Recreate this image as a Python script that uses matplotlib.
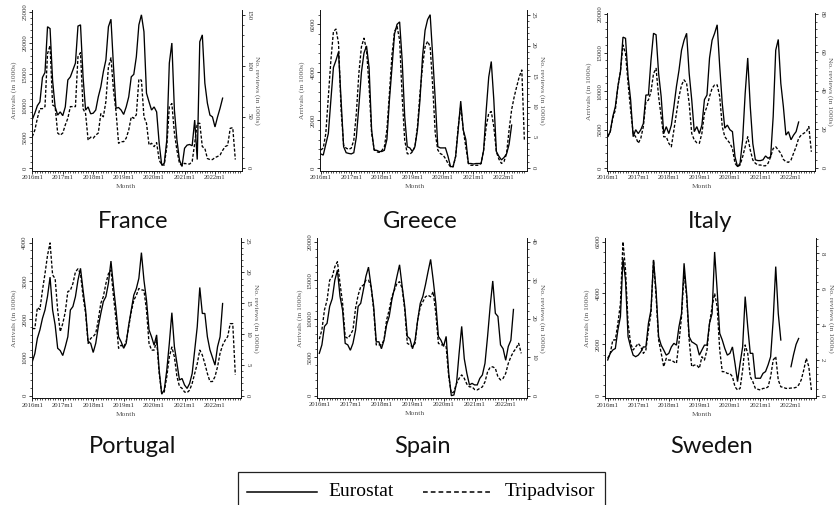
import numpy as np
import matplotlib
matplotlib.use("Agg")
import matplotlib.pyplot as plt
from matplotlib.ticker import AutoMinorLocator, MultipleLocator
from matplotlib.lines import Line2D
from matplotlib.patches import Rectangle

plt.rcParams['lines.scale_dashes'] = False

# ---------------- data ----------------
year_ticks = [0, 12, 24, 36, 48, 60, 72]
year_labels = ["2016m1", "2017m1", "2018m1", "2019m1", "2020m1", "2021m1", "2022m1"]
nan = np.nan

# Eurostat arrivals (in 1000s), monthly from 2016m1
france_eurostat = [7800, 8800, 10000, 10600, 14500, 15300, 22600, 22300, 14000, 9800, 8500, 9000,
                   8400, 9800, 14100, 14600, 15700, 16800, 22700, 22900, 14600, 9300, 9800, 8700,
                   8800, 9300, 11400, 13000, 15400, 17300, 22600, 23800, 16200, 9600, 9700, 9300,
                   8600, 9800, 11400, 14600, 15000, 17800, 22900, 24500, 21800, 12000, 10600, 9300,
                   9800, 9000, 4000, 500, 800, 4500, 16800, 20000, 9300, 4500, 1300, 300,
                   3200, 3700, 3800, 3600, 7700, 1400, 20200, 21300, 13600, 10400, 8500, 8200,
                   6600, 8200, 9600, 11200]
france_tripadvisor = [30.5, 37, 48.5, 58, 58, 60, 112, 120, 61.6, 60, 34, 32,
                      34, 42, 48.5, 60, 60, 60, 109, 113, 58, 53, 27, 30,
                      29, 32, 34, 53, 50, 65, 99, 108, 76, 55, 24, 25.6,
                      25.6, 29, 37, 50, 48.5, 52, 87, 86, 50, 43.6, 22.3, 24,
                      20.7, 24.6, 7.5, 2.6, 2.6, 20.7, 60, 63, 34, 17, 4.3, 2,
                      4.3, 3.6, 3.6, 6, 24, 43.6, 43.6, 20.7, 19, 9, 8, 8,
                      10, 11, 12.5, 17, 20.7, 22, 38.7, 39.3, 8]

greece_eurostat = [600, 550, 1000, 1450, 2850, 4200, 4500, 4850, 2850, 900, 650, 620,
                   600, 650, 1300, 2600, 4000, 4800, 5100, 4200, 1600, 750, 750, 700,
                   700, 750, 1200, 2850, 4200, 5600, 6000, 6100, 4500, 2150, 900, 850,
                   700, 900, 1600, 2850, 4650, 5750, 6200, 6400, 4650, 2850, 900, 850,
                   850, 850, 500, 70, 70, 500, 1600, 2800, 1600, 1200, 200, 200,
                   180, 200, 200, 200, 750, 2400, 3800, 4450, 2850, 700, 500, 350,
                   450, 600, 1000, 1800]
greece_tripadvisor = [2.9, 3.2, 5.6, 11.6, 17.6, 22.3, 22.7, 20.4, 9.5, 3.7, 3.2, 3.0,
                      3.2, 4.5, 8.9, 15.5, 19.8, 21.2, 19.3, 13.3, 5.6, 3.0, 2.6, 2.5,
                      2.8, 3.4, 6.2, 12.2, 18.5, 22.3, 23.1, 20.9, 11.6, 4.5, 2.3, 2.2,
                      2.6, 3.4, 6.7, 12.2, 16.6, 19.8, 20.7, 19.8, 13.3, 5.6, 2.9, 2.3,
                      2.1, 1.5, 0.7, 0.15, 0.15, 1.8, 6.7, 10.0, 6.2, 3.4, 0.7, 0.4,
                      0.4, 0.4, 0.4, 0.7, 2.9, 6.7, 8.9, 9.2, 6.7, 2.6, 1.4, 0.7,
                      1.0, 2.3, 6.2, 9.5, 11.6, 13.3, 14.9, 16.0, 4.5]

italy_eurostat = [4100, 4750, 6700, 8000, 10600, 12500, 17000, 16850, 11900, 8900, 4100, 5000,
                  4500, 5000, 5800, 9500, 9500, 14000, 17500, 17300, 12300, 9300, 4500, 5400,
                  4500, 5600, 8000, 10600, 12700, 15300, 16600, 17500, 12300, 8900, 4750, 5400,
                  4500, 5600, 8900, 9500, 14300, 16600, 17500, 18600, 13200, 8400, 5200, 5600,
                  5000, 4750, 1500, 200, 650, 3700, 9700, 14300, 8000, 3200, 1100, 1000,
                  1000, 1100, 1600, 1300, 1500, 6700, 15300, 16700, 11000, 8000, 4300, 4750,
                  3700, 4300, 4750, 6000]
italy_tripadvisor = [16.1, 18.7, 25.7, 30, 42.2, 50, 63.9, 59.5, 43.9, 30, 18, 16,
                     12.7, 15.3, 21.4, 34.4, 35.2, 39.6, 49, 51.7, 37, 26.6, 16.1, 16.1,
                     12.7, 10.9, 19.6, 28.3, 37, 43, 45.7, 43.9, 33.5, 17.9, 14.4, 13,
                     12.7, 17.9, 28.3, 31.8, 37, 41.3, 43.1, 43.1, 37, 21.4, 16.1, 14.4,
                     12.7, 10, 2.3, 0.5, 1.4, 5.7, 10.9, 16.1, 9.2, 4, 2.3, 1.4,
                     1.4, 1, 1, 2.3, 5.7, 10, 10.9, 9.2, 7.5, 4.3, 3.1, 2.8,
                     4, 7.5, 10.9, 15.3, 17, 17.9, 18.7, 21.4, 8.3]

portugal_eurostat = [890, 1100, 1500, 1720, 2020, 2240, 2600, 3100, 2240, 1850, 1240, 1180,
                     1050, 1280, 1540, 2240, 2330, 2590, 3020, 3330, 2760, 2240, 1410, 1370,
                     1130, 1370, 1800, 2150, 2460, 2590, 2940, 3520, 2850, 2240, 1540, 1410,
                     1240, 1370, 1850, 2240, 2630, 2800, 3070, 3740, 3020, 2500, 1720, 1540,
                     1320, 1590, 670, 40, 150, 670, 1370, 2170, 1280, 850, 410, 450,
                     280, 190, 320, 580, 1190, 1800, 2830, 2150, 2150, 1540, 1200, 1000,
                     800, 1280, 1540, 2410]
portugal_tripadvisor = [10.9, 10.9, 14.3, 14.0, 17.1, 19.8, 22.8, 24.8, 19.6, 19.0, 13.9, 10.4,
                        11.7, 13.6, 16.9, 17.1, 18.2, 20.1, 20.6, 19.8, 16.1, 13.4, 8.5, 9.3,
                        9.6, 10.1, 12.3, 15.0, 16.1, 18.2, 19.8, 20.4, 16.1, 12.3, 7.7, 8.2,
                        7.9, 8.8, 11.2, 13.6, 15.5, 16.3, 17.4, 17.2, 17.1, 13.9, 8.5, 7.4,
                        7.4, 9.0, 3.6, 0.4, 0.6, 3.1, 6.3, 7.9, 6.3, 3.1, 1.5, 1.2,
                        0.6, 0.5, 0.9, 2.0, 3.6, 5.2, 7.4, 6.6, 5.2, 3.6, 2.3, 2.3,
                        3.1, 4.7, 6.9, 8.2, 9.0, 9.6, 11.7, 11.7, 3.4]

spain_eurostat = [5500, 6600, 9000, 9400, 11600, 12600, 15000, 16300, 12900, 11100, 6800, 6600,
                  5900, 6800, 8500, 11600, 12000, 13700, 15500, 16700, 14200, 11600, 7000, 7000,
                  6100, 7200, 9200, 10300, 12400, 13900, 15500, 17000, 14200, 11600, 7700, 7400,
                  6100, 7200, 9800, 12000, 12900, 14400, 16100, 17700, 15000, 12000, 7700, 7200,
                  6400, 7700, 2900, 0, 100, 1600, 5500, 9000, 4800, 2900, 1400, 1600,
                  1400, 1400, 2250, 2700, 4200, 7700, 11600, 14900, 10700, 10300, 6600, 6100,
                  4600, 6400, 7200, 11200]
spain_tripadvisor = [14.7, 17.1, 22.3, 24.8, 30.0, 30.9, 33.5, 34.8, 29.2, 24.0, 15.3, 14.9,
                     15.8, 17.1, 22.7, 26.1, 28.3, 28.7, 30.0, 30.0, 28.3, 22.3, 13.2, 13.2,
                     13.2, 14.5, 19.7, 22.3, 25.7, 27.4, 29.2, 29.6, 27.9, 22.3, 13.6, 13.2,
                     12.7, 13.6, 19.7, 23.1, 24.4, 25.7, 26.1, 25.7, 27.0, 21.4, 13.6, 13.2,
                     13.2, 12.7, 4.9, 0.6, 1.0, 3.2, 4.5, 5.4, 4.5, 3.0, 2.3, 2.3,
                     1.6, 1.5, 1.9, 2.3, 3.6, 6.2, 7.4, 7.5, 7.1, 4.9, 4.1, 4.5,
                     5.8, 8.4, 10.1, 11.4, 12.3, 13.6, 11.0]

sweden_eurostat = [1390, 1650, 1780, 1840, 2560, 3080, 5350, 4500, 2300, 1900, 1580, 1520,
                   1580, 1710, 1900, 1900, 2820, 3340, 5290, 4100, 2300, 1970, 1780, 1580,
                   1650, 1900, 2040, 1970, 2690, 3200, 5160, 3990, 2300, 2100, 2040, 1970,
                   1580, 1780, 1970, 1970, 2820, 3200, 5600, 4100, 2430, 2170, 1840, 1580,
                   1650, 1900, 1260, 550, 1260, 1900, 3860, 2690, 1650, 1650, 680, 680,
                   680, 870, 940, 1200, 1520, 2950, 5030, 3200, 2170, nan, nan, nan,
                   1130, 1600, 2000, 2230]
sweden_tripadvisor = [2.1, 2.38, 3.13, 3.13, 4.06, 5.19, 8.65, 7.06, 4.06, 2.94, 2.57, 2.75,
                      2.94, 2.75, 2.38, 2.57, 3.69, 4.63, 7.62, 5.56, 3.13, 2.4, 1.63, 2.1,
                      2.0, 2.0, 1.9, 1.82, 3.0, 4.44, 6.87, 5.56, 3.13, 1.63, 1.72, 1.72,
                      1.54, 2.19, 2.0, 2.57, 4.06, 5.0, 5.75, 5.0, 2.57, 1.35, 1.35, 1.25,
                      1.25, 1.07, 0.5, 0.32, 0.41, 1.44, 2.85, 2.38, 1.07, 0.79, 0.41, 0.36,
                      0.32, 0.41, 0.41, 0.5, 1.07, 2.0, 2.2, 0.88, 0.5, 0.47, 0.41, 0.41,
                      0.43, 0.43, 0.47, 0.6, 0.88, 1.44, 2.1, 1.63, 0.32]

countries = ["France", "Greece", "Italy", "Portugal", "Spain", "Sweden"]
eurostat = [france_eurostat, greece_eurostat, italy_eurostat,
            portugal_eurostat, spain_eurostat, sweden_eurostat]
tripadvisor = [france_tripadvisor, greece_tripadvisor, italy_tripadvisor,
               portugal_tripadvisor, spain_tripadvisor, sweden_tripadvisor]
left_ticks = [[0, 5000, 10000, 15000, 20000, 25000], [0, 2000, 4000, 6000],
              [0, 5000, 10000, 15000, 20000], [0, 1000, 2000, 3000, 4000],
              [0, 5000, 10000, 15000, 20000], [0, 2000, 4000, 6000]]
right_ticks = [[0, 50, 100, 150], [0, 5, 10, 15, 20, 25], [0, 20, 40, 60, 80],
               [0, 5, 10, 15, 20, 25], [0, 10, 20, 30, 40], [0, 2, 4, 6, 8]]

# ---------------- layout (pixels) ----------------
W, H = 834, 505
layout = [
    dict(box=(31.7, 241.7, 10.0, 170.7), xcal=(32.3, 215.0), lcal=(168.3, 11.7, 25000), rcal=(167.7, 15.0, 150), title=(133, 227.5)),
    dict(box=(320.0, 526.7, 10.0, 170.7), xcal=(320.7, 504.0), lcal=(168.3, 24.3, 6000), rcal=(167.7, 15.0, 25), title=(420, 227.5)),
    dict(box=(606.7, 815.0, 12.7, 170.7), xcal=(607.7, 791.0), lcal=(168.3, 14.0, 20000), rcal=(167.7, 14.0, 80), title=(710, 227.5)),
    dict(box=(31.7, 240.7, 238.3, 398.3), xcal=(32.3, 215.0), lcal=(395.7, 242.7, 4000), rcal=(395.7, 241.7, 25), title=(133, 453.0)),
    dict(box=(317.3, 526.7, 238.3, 397.7), xcal=(319.3, 505.7), lcal=(395.7, 241.7, 20000), rcal=(395.7, 241.7, 40), title=(422, 453.0)),
    dict(box=(605.0, 815.7, 238.3, 398.3), xcal=(607.7, 791.0), lcal=(395.7, 241.7, 6000), rcal=(395.7, 253.3, 8), title=(712, 453.0)),
]

SERIF = "Liberation Serif"
TICKCOL = "#333333"
TITLECOL = "#555555"
LW = 0.95
PLOT_DASH = (2.2, 1.3)
TICKFS = 4.9
TITLEFS = 5.4

fig = plt.figure(figsize=(W / 100, H / 100), dpi=100)


def lims(cal, lo_px, hi_px):
    z, r, v = cal
    k = (z - r) / v
    return ((z - lo_px) / k, (z - hi_px) / k)


for i, name in enumerate(countries):
    L = layout[i]
    x0, x1, yt, yb = L["box"]
    ax = fig.add_axes([x0 / W, 1 - yb / H, (x1 - x0) / W, (yb - yt) / H])
    ax2 = ax.twinx()
    ax.patch.set_alpha(0)

    e = eurostat[i]
    t = tripadvisor[i]
    ax.plot(np.arange(len(e)), e, color="black", lw=LW, solid_joinstyle="miter")
    ax2.plot(np.arange(len(t)), t, color="black", lw=LW, dashes=PLOT_DASH)

    p0, p72 = L["xcal"]
    s = (p72 - p0) / 72
    ax.set_xlim((x0 - p0) / s, (x1 - p0) / s)
    ax.set_ylim(*lims(L["lcal"], yb, yt))
    ax2.set_ylim(*lims(L["rcal"], yb, yt))

    for a in (ax, ax2):
        a.spines["top"].set_visible(False)
        for sp in a.spines.values():
            sp.set_linewidth(0.7)
            sp.set_color("#111111")
    ax.spines["right"].set_visible(False)
    ax2.spines["left"].set_visible(False)
    ax2.spines["bottom"].set_visible(False)

    ax.set_xticks(year_ticks)
    ax.set_xticklabels(year_labels, fontsize=TICKFS, family=SERIF, color=TICKCOL)
    ax.xaxis.set_minor_locator(MultipleLocator(1))

    lt = left_ticks[i]
    ax.set_yticks(lt)
    ax.set_yticklabels([str(v) for v in lt], fontsize=TICKFS, family=SERIF,
                       color=TICKCOL, rotation=90, va="center")
    ax.yaxis.set_minor_locator(AutoMinorLocator(5))

    rt = right_ticks[i]
    ax2.set_yticks(rt)
    ax2.set_yticklabels([str(v) for v in rt], fontsize=TICKFS, family=SERIF,
                        color=TICKCOL, rotation=270, va="center")
    ax2.yaxis.set_minor_locator(AutoMinorLocator(5))

    for a in (ax, ax2):
        a.tick_params(which="major", length=2.2, width=0.6, pad=1.0, color="#111111")
        a.tick_params(which="minor", length=1.1, width=0.5, color="#111111")

    wpx = x1 - x0
    hpx = yb - yt
    ax.set_xlabel("Month", fontsize=TITLEFS, family=SERIF, color=TITLECOL, va="center")
    ax.xaxis.set_label_coords(((p0 + p72) / 2 + 2 - x0) / wpx, -16.0 / hpx)
    ax.set_ylabel("Arrivals (in 1000s)", fontsize=TITLEFS, family=SERIF, color=TITLECOL, va="center")
    ax.yaxis.set_label_coords(-17.4 / wpx, 0.5)
    ax2.set_ylabel("No. reviews (in 1000s)", fontsize=TITLEFS, family=SERIF, color=TITLECOL,
                   rotation=270, va="center")
    ax2.yaxis.set_label_coords(1 + 15.0 / wpx, 0.5)

    tx, ty = L["title"]
    fig.text(tx / W, 1 - ty / H, name, fontsize=17, family="Lato",
             ha="center", va="baseline", color="#111111")

# ---------------- legend ----------------
lx0, lx1, ly0, ly1 = 238.3, 605.0, 471.7, 512.0
fig.patches.append(Rectangle((lx0 / W, 1 - ly1 / H), (lx1 - lx0) / W, (ly1 - ly0) / H,
                             transform=fig.transFigure, fill=False, lw=0.9,
                             edgecolor="#222222", clip_on=False))
ly = 1 - 491.7 / H
fig.lines.append(Line2D([246.7 / W, 316.7 / W], [ly, ly], transform=fig.transFigure,
                        color="black", lw=1.1))
fig.lines.append(Line2D([423.0 / W, 493.0 / W], [ly, ly], transform=fig.transFigure,
                        color="black", lw=1.1, dashes=(3.4, 2.2)))
fig.text(328 / W, ly, "Eurostat", fontsize=14, family=SERIF, va="center", ha="left")
fig.text(505 / W, ly, "Tripadvisor", fontsize=14, family=SERIF, va="center", ha="left")

fig.savefig("out.png", dpi=100)
